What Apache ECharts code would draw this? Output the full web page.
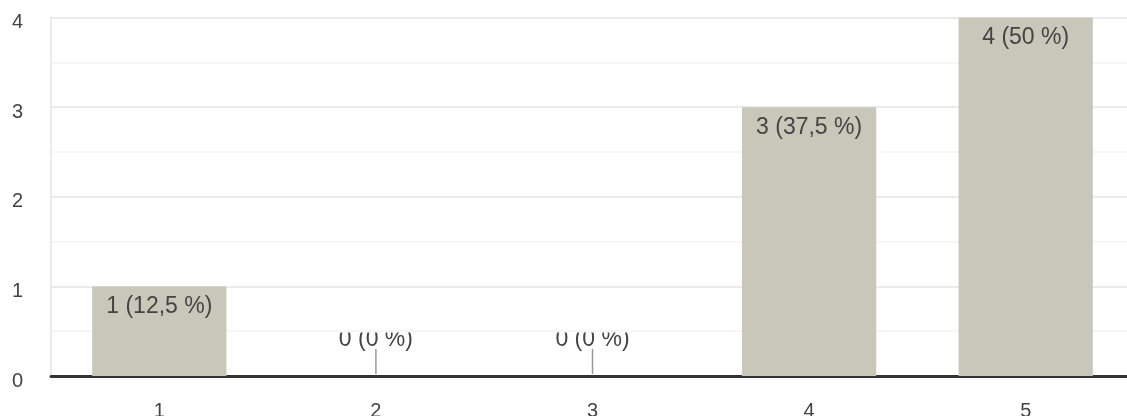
<!DOCTYPE html>
<html>
<head>
<meta charset="utf-8">
<script src="https://cdn.jsdelivr.net/npm/echarts@6/dist/echarts.min.js"></script>
<style>html,body{margin:0;padding:0;background:#fff}#c{width:1127px;height:416px}</style>
</head>
<body>
<div id="c"></div>
<script>
var categories = ['1', '2', '3', '4', '5'];
var counts = [1, 0, 0, 3, 4];
var percents = ['12,5', '0', '0', '37,5', '50'];
var yTicks = [0, 1, 2, 3, 4];

var FONT = '"Liberation Sans", Arial, sans-serif';
var chart = echarts.init(document.getElementById('c'), null, {renderer: 'canvas'});

function labelText(i) { return counts[i] + ' (' + percents[i] + ' %)'; }

chart.setOption({
  animation: false,
  grid: {left: 51, width: 1083, top: 17.5, bottom: 40, containLabel: false, outerBoundsMode: 'none'},
  xAxis: {
    type: 'category',
    data: categories,
    axisLine: {show: true, lineStyle: {color: '#333333', width: 3}},
    axisTick: {show: false},
    axisLabel: {color: '#444444', fontSize: 20, fontFamily: FONT, margin: 25},
    splitLine: {show: false}
  },
  yAxis: {
    type: 'value',
    min: yTicks[0],
    max: yTicks[yTicks.length - 1],
    interval: 1,
    axisLine: {show: true, lineStyle: {color: '#ebebeb', width: 2}},
    axisTick: {show: false},
    axisLabel: {color: '#444444', fontSize: 20, fontFamily: FONT, margin: 28, verticalAlign: 'top', lineHeight: 10},
    splitLine: {show: true, lineStyle: {color: '#ebebeb', width: 2}},
    minorTick: {show: false, splitNumber: 2},
    minorSplitLine: {show: true, lineStyle: {color: '#f4f4f4', width: 1.5}}
  },
  series: [
    {
      type: 'bar',
      data: counts,
      barWidth: '62%',
      itemStyle: {color: '#c9c7b9'},
      label: {
        show: true,
        position: 'insideTop',
        distance: 9,
        color: '#444444',
        fontSize: 23,
        fontFamily: FONT,
        formatter: function (p) { return counts[p.dataIndex] === 0 ? '' : labelText(p.dataIndex); }
      },
      z: 2
    },
    {
      type: 'custom',
      coordinateSystem: 'cartesian2d',
      data: counts.map(function (v, i) { return [i, v]; }),
      encode: {x: 0, y: 1},
      z: 3,
      silent: true,
      renderItem: function (params, api) {
        var i = api.value(0);
        var v = api.value(1);
        if (v !== 0) return null;
        var p0 = api.coord([i, 0]);
        return {
          type: 'group',
          children: [
            {
              type: 'line',
              shape: {x1: p0[0], y1: p0[1] - 2, x2: p0[0], y2: p0[1] - 27},
              style: {stroke: '#999999', lineWidth: 1.5}
            },
            {
              type: 'group',
              clipPath: {type: 'rect', shape: {x: p0[0] - 100, y: p0[1] - 43.5, width: 200, height: 40}},
              children: [{
                type: 'text',
                style: {
                  text: labelText(i),
                  x: p0[0],
                  y: p0[1] - 36,
                  align: 'center',
                  verticalAlign: 'middle',
                  fill: '#444444',
                  font: '23px ' + FONT
                }
              }]
            }
          ]
        };
      }
    }
  ]
});
</script>
</body>
</html>
